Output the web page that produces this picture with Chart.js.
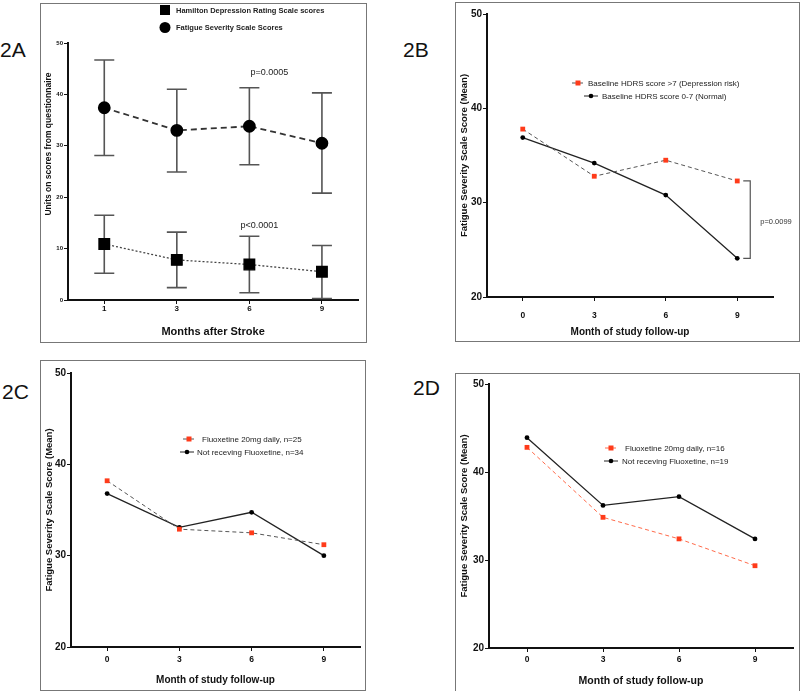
<!DOCTYPE html>
<html>
<head>
<meta charset="utf-8">
<script src="https://cdn.jsdelivr.net/npm/chart.js@4.4.1/dist/chart.umd.min.js"></script>
<style>
  body { margin: 0; background: #fff; }
  #wrap { position: relative; width: 800px; height: 691px; overflow: hidden; font-family: 'Liberation Sans', Arial, sans-serif; }
  canvas { position: absolute; }
  .frame { position: absolute; border: 1.5px solid #777; box-sizing: border-box; pointer-events: none; }
  .tag { position: absolute; font-size: 21px; line-height: 1; color: #111; }
</style>
</head>
<body>
<div id="wrap">
  <div class="tag" style="left:0px;top:39px">2A</div>
  <div class="tag" style="left:403px;top:39px">2B</div>
  <div class="tag" style="left:2px;top:381px">2C</div>
  <div class="tag" style="left:413px;top:377px">2D</div>

  <canvas id="c2a" width="327" height="340" style="left:40px;top:3px"></canvas>
  <canvas id="c2b" width="344" height="340" style="left:455px;top:2px"></canvas>
  <canvas id="c2c" width="326" height="330" style="left:40px;top:360px"></canvas>
  <canvas id="c2d" width="344" height="318" style="left:455px;top:373px"></canvas>

  <div class="frame" style="left:40px;top:3px;width:327px;height:340px"></div>
  <div class="frame" style="left:455px;top:2px;width:345px;height:340px"></div>
  <div class="frame" style="left:40px;top:360px;width:326px;height:331px"></div>
  <div class="frame" style="left:455px;top:373px;width:345px;height:320px"></div>
</div>

<script>
// --- DATA ---
// 2A: means with error bars
const months2A = ['1', '3', '6', '9'];
const ticks2A = [0, 10, 20, 30, 40, 50];
const hdrsMean = [10.9, 7.8, 6.9, 5.5];
const hdrsLow = [5.2, 2.4, 1.4, 0.3];
const hdrsHigh = [16.5, 13.2, 12.4, 10.6];
const fssMean = [37.4, 33.0, 33.8, 30.5];
const fssLow = [28.1, 24.9, 26.3, 20.8];
const fssHigh = [46.7, 41.0, 41.3, 40.3];

// 2B-2D: FSS means by follow-up month
const followUp = ['0', '3', '6', '9'];
const ticksFSS = [20, 30, 40, 50];
const fss2BRisk = [37.8, 32.8, 34.5, 32.3];
const fss2BNormal = [36.9, 34.2, 30.8, 24.1];
const fss2CFluox = [38.2, 32.9, 32.5, 31.2];
const fss2CNone = [36.8, 33.1, 34.75, 30.0];
const fss2DFluox = [42.8, 34.85, 32.4, 29.35];
const fss2DNone = [43.9, 36.2, 37.2, 32.4];

// p-value notes (category index + value they sit at)
const notes2A = [
  { text: 'p=0.0005', cat: 2, value: 44.2, dx: 20 },
  { text: 'p<0.0001', cat: 2, value: 14.4, dx: 10 }
];
const note2B = 'p=0.0099';
const yTitle2A = 'Units on scores from questionnaire';

// --- STYLE ---
const FONT = "'Liberation Sans', Arial, sans-serif";
const RED = '#ff3b1a';
Chart.defaults.font.family = FONT;
Chart.defaults.color = '#111';
Chart.defaults.animation = false;
Chart.defaults.events = [];

function yAxis(tickVals, width, tickSize, title, titleSize) {
  return {
    min: tickVals[0], max: tickVals[tickVals.length - 1],
    afterBuildTicks: s => { s.ticks = tickVals.map(v => ({ value: v })); },
    afterFit: s => { s.width = width; },
    grid: { drawOnChartArea: false, color: '#111', tickLength: 4, lineWidth: 1 },
    border: { color: '#111', width: 2 },
    ticks: { color: '#111', font: { size: tickSize, weight: 'bold' }, padding: 1 },
    title: { display: !!title, text: title, color: '#111', font: { size: titleSize, weight: 'bold' }, padding: { top: 4, bottom: 0 } }
  };
}

function xAxis(height, tickSize, tickPad, title, titleSize) {
  return {
    type: 'category', offset: true,
    afterFit: s => { s.height = height; },
    grid: { offset: false, drawOnChartArea: false, color: '#111', tickLength: 4, lineWidth: 1 },
    border: { color: '#111', width: 2 },
    ticks: { color: '#111', font: { size: tickSize, weight: 'bold' }, padding: tickPad, maxRotation: 0, autoSkip: false },
    title: { display: true, text: title, color: '#111', font: { size: titleSize, weight: 'bold' }, padding: { top: 0, bottom: 4 } }
  };
}

function marker(ctx, style, x, y, r, color) {
  ctx.fillStyle = color;
  ctx.beginPath();
  if (style === 'rect') ctx.rect(x - r, y - r, 2 * r, 2 * r);
  else ctx.arc(x, y, r, 0, Math.PI * 2);
  ctx.fill();
}

// legend drawn inside the panel like the original figure
function legendPlugin(items, font) {
  return {
    id: 'legendLike',
    afterDraw(chart) {
      const ctx = chart.ctx;
      items.forEach(it => {
        const ds = chart.data.datasets[it.ds];
        ctx.save();
        if (it.half) {
          ctx.strokeStyle = ds.borderColor;
          ctx.lineWidth = 1;
          ctx.setLineDash(ds.borderDash || []);
          ctx.beginPath();
          ctx.moveTo(it.x - it.half, it.y);
          ctx.lineTo(it.x + it.half, it.y);
          ctx.stroke();
          ctx.setLineDash([]);
        }
        marker(ctx, ds.pointStyle, it.x, it.y, it.r, ds.pointBackgroundColor);
        ctx.fillStyle = '#222';
        ctx.font = font;
        ctx.textBaseline = 'middle';
        ctx.fillText(ds.label, it.tx, it.y + 0.5);
        ctx.restore();
      });
    }
  };
}

// --- 2A ---
const errorBars = {
  id: 'errorBars',
  beforeDatasetsDraw(chart) {
    const { ctx, scales: { x, y } } = chart;
    ctx.save();
    ctx.strokeStyle = '#555';
    ctx.lineWidth = 1.6;
    chart.data.datasets.forEach(ds => {
      ds.data.forEach((v, i) => {
        const px = x.getPixelForValue(i);
        const top = y.getPixelForValue(ds.errHigh[i]);
        const bot = y.getPixelForValue(ds.errLow[i]);
        ctx.beginPath();
        ctx.moveTo(px, top); ctx.lineTo(px, bot);
        ctx.moveTo(px - 10, top); ctx.lineTo(px + 10, top);
        ctx.moveTo(px - 10, bot); ctx.lineTo(px + 10, bot);
        ctx.stroke();
      });
    });
    ctx.restore();
  },
  afterDraw(chart) {
    const { ctx, scales: { x, y } } = chart;
    ctx.save();
    ctx.fillStyle = '#222';
    ctx.font = '9px ' + FONT;
    ctx.textAlign = 'center';
    ctx.textBaseline = 'middle';
    notes2A.forEach(n => ctx.fillText(n.text, x.getPixelForValue(n.cat) + n.dx, y.getPixelForValue(n.value)));
    // y title sits a bit above the axis middle in the original
    ctx.translate(9, 141);
    ctx.rotate(-Math.PI / 2);
    ctx.font = 'bold 8.5px ' + FONT;
    ctx.fillStyle = '#111';
    ctx.fillText(yTitle2A, 0, 0);
    ctx.restore();
  }
};

new Chart(document.getElementById('c2a'), {
  type: 'line',
  data: {
    labels: months2A,
    datasets: [
      { label: 'Hamilton Depression Rating Scale scores', data: hdrsMean, errLow: hdrsLow, errHigh: hdrsHigh,
        borderColor: '#444', borderWidth: 1.3, borderDash: [2, 2], pointStyle: 'rect', pointRadius: 7.5,
        pointBackgroundColor: '#000', pointBorderColor: '#000' },
      { label: 'Fatigue Severity Scale Scores', data: fssMean, errLow: fssLow, errHigh: fssHigh,
        borderColor: '#333', borderWidth: 1.8, borderDash: [6, 4], pointStyle: 'circle', pointRadius: 5.5,
        pointBackgroundColor: '#000', pointBorderColor: '#000' }
    ]
  },
  options: {
    responsive: false,
    layout: { padding: { top: 40, right: 7, left: 0, bottom: 0 } },
    plugins: { legend: { display: false }, tooltip: { enabled: false } },
    scales: {
      x: xAxis(43, 8, 0, 'Months after Stroke', 11),
      y: yAxis(ticks2A, 28, 6, '', 7)
    }
  },
  plugins: [errorBars, legendPlugin([
    { ds: 0, x: 125, y: 7, r: 5, tx: 136 },
    { ds: 1, x: 125, y: 24.5, r: 5.5, tx: 136 }
  ], 'bold 7.5px ' + FONT)]
});

// --- 2B-2D ---
function fssChart(id, riskLabel, riskData, riskLine, normLabel, normData, opts) {
  return new Chart(document.getElementById(id), {
    type: 'line',
    data: {
      labels: followUp,
      datasets: [
        { label: riskLabel, data: riskData, borderColor: riskLine, borderWidth: 1, borderDash: [4, 3],
          pointStyle: 'rect', pointRadius: 3.4, pointBackgroundColor: RED, pointBorderColor: RED, pointBorderWidth: 0 },
        { label: normLabel, data: normData, borderColor: '#222', borderWidth: 1.3,
          pointStyle: 'circle', pointRadius: 2.4, pointBackgroundColor: '#000', pointBorderColor: '#000', pointBorderWidth: 0 }
      ]
    },
    options: {
      responsive: false,
      layout: { padding: { top: opts.top, right: opts.right, left: 0, bottom: 0 } },
      plugins: { legend: { display: false }, tooltip: { enabled: false } },
      scales: {
        x: xAxis(opts.xh, 8.5, opts.tickPad, 'Month of study follow-up', opts.xTitle),
        y: yAxis(ticksFSS, opts.yw, 10, 'Fatigue Severity Scale Score (Mean)', 9.5)
      }
    },
    plugins: [legendPlugin(opts.legend, '8px ' + FONT)].concat(opts.extra || [])
  });
}

// bracket with p value at month 9 in 2B
const bracket2B = {
  id: 'bracket',
  afterDraw(chart) {
    const { ctx, scales: { x, y } } = chart;
    const last = followUp.length - 1;
    const px = x.getPixelForValue(last);
    const y1 = y.getPixelForValue(chart.data.datasets[0].data[last]);
    const y2 = y.getPixelForValue(chart.data.datasets[1].data[last]);
    ctx.save();
    ctx.strokeStyle = '#555';
    ctx.lineWidth = 1.2;
    ctx.beginPath();
    ctx.moveTo(px + 6, y1); ctx.lineTo(px + 13, y1); ctx.lineTo(px + 13, y2); ctx.lineTo(px + 6, y2);
    ctx.stroke();
    ctx.fillStyle = '#333';
    ctx.font = '7.5px ' + FONT;
    ctx.textBaseline = 'middle';
    ctx.fillText(note2B, px + 23, (y1 + y2) / 2 + 2);
    ctx.restore();
  }
};

fssChart('c2b', 'Baseline HDRS score >7 (Depression risk)', fss2BRisk, '#555',
  'Baseline HDRS score 0-7 (Normal)', fss2BNormal,
  { top: 12, right: 26, yw: 32, xh: 45, tickPad: 10, xTitle: 10,
    legend: [{ ds: 0, x: 123, y: 81, r: 2.5, half: 6, tx: 133 }, { ds: 1, x: 136, y: 94, r: 2.3, half: 7, tx: 147 }],
    extra: [bracket2B] });

fssChart('c2c', 'Fluoxetine 20mg daily, n=25', fss2CFluox, '#555',
  'Not receving Fluoxetine, n=34', fss2CNone,
  { top: 13, right: 6, yw: 31, xh: 43, tickPad: 4, xTitle: 10,
    legend: [{ ds: 0, x: 149, y: 79, r: 2.5, half: 6, tx: 162 }, { ds: 1, x: 147, y: 92, r: 2.3, half: 7, tx: 157 }] });

fssChart('c2d', 'Fluoxetine 20mg daily, n=16', fss2DFluox, '#ff6a4a',
  'Not receving Fluoxetine, n=19', fss2DNone,
  { top: 11, right: 6, yw: 34, xh: 43, tickPad: 3, xTitle: 10.5,
    legend: [{ ds: 0, x: 156, y: 75, r: 2.5, half: 6, tx: 170 }, { ds: 1, x: 156, y: 88, r: 2.3, half: 7, tx: 167 }] });
</script>
</body>
</html>
